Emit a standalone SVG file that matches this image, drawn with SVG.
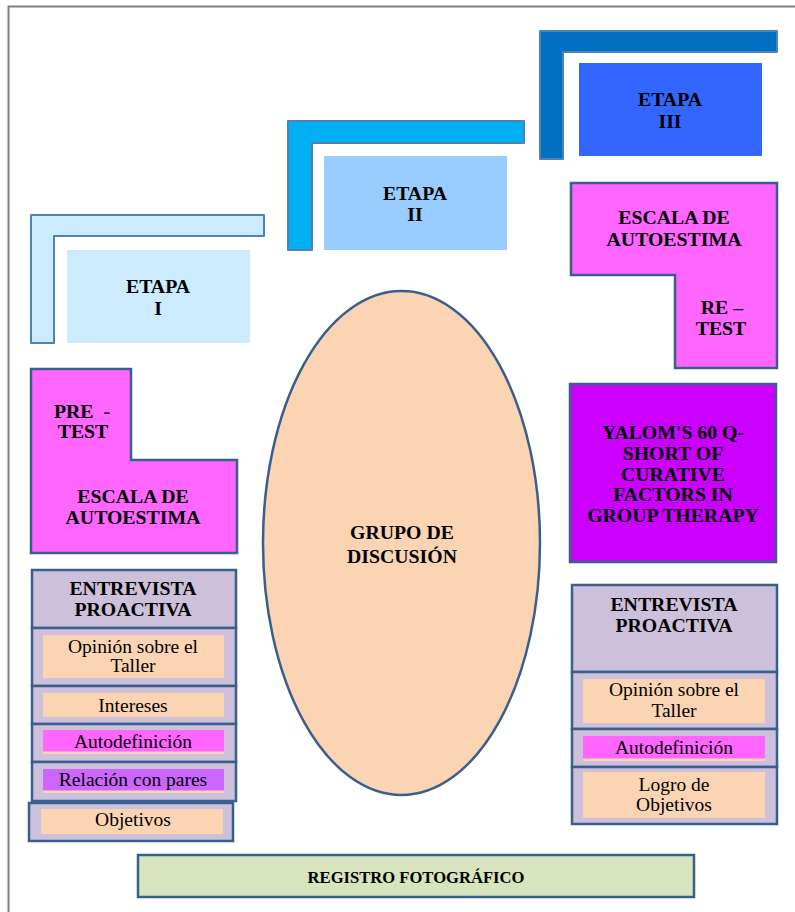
<svg xmlns="http://www.w3.org/2000/svg" width="795" height="912" viewBox="0 0 795 912">
<style>
.b{font-family:"Liberation Serif","Times New Roman",serif;font-weight:bold;font-size:19.8px;text-anchor:middle;fill:#000}
.r{font-family:"Liberation Serif","Times New Roman",serif;font-size:19.5px;text-anchor:middle;fill:#000}
.bx{stroke:#3A5F8C;stroke-width:2.5}
.lsh{stroke:#4F81BD;stroke-width:2;stroke-linejoin:round}
.row{fill:#CCC0DA;stroke:#3A5F8C;stroke-width:2.5}
.peach{fill:#FBD4B4}
</style>
<rect width="795" height="912" fill="#fff"/>
<path d="M8.5 912 V6.5 H795" fill="none" stroke="#808080" stroke-width="2"/>

<g id="etapa1">
<path class="lsh" d="M31 215 H264 V236 H54 V343 H31 Z" fill="#CCEBFF"/>
<rect x="67" y="250" width="183" height="93" fill="#CCEBFF"/>
<text class="b" x="158" y="293">ETAPA</text>
<text class="b" x="158" y="315">I</text>
</g>

<g id="etapa2">
<path class="lsh" d="M288 121 H524 V143 H312 V250 H288 Z" fill="#00B0F0"/>
<rect x="324" y="156" width="183" height="94" fill="#99CCFF"/>
<text class="b" x="415" y="200">ETAPA</text>
<text class="b" x="415" y="221">II</text>
</g>

<g id="etapa3">
<path class="lsh" d="M540 31 H777 V52 H563 V159 H540 Z" fill="#0070C0"/>
<rect x="579" y="63" width="183" height="93" fill="#3366FF"/>
<text class="b" x="670" y="106">ETAPA</text>
<text class="b" x="670" y="128">III</text>
</g>

<g id="retest">
<path class="bx" d="M571 183 H777 V368 H675 V275 H571 Z" fill="#FF66FF"/>
<text class="b" x="674" y="224">ESCALA DE</text>
<text class="b" x="674" y="246">AUTOESTIMA</text>
<text class="b" x="722" y="314">RE –</text>
<text class="b" x="721" y="335">TEST</text>
</g>

<g id="pretest">
<path class="bx" d="M31 369 H131 V460 H237 V553 H31 Z" fill="#FF66FF"/>
<text class="b" x="82" y="418" xml:space="preserve">PRE  -</text>
<text class="b" x="83" y="438">TEST</text>
<text class="b" x="133" y="503">ESCALA DE</text>
<text class="b" x="133" y="524">AUTOESTIMA</text>
</g>

<g id="grupo">
<ellipse cx="401.5" cy="543" rx="138.5" ry="252" fill="#FBD4B4" stroke="#3A5F8C" stroke-width="2.5"/>
<text class="b" x="402" y="539">GRUPO DE</text>
<text class="b" x="402" y="563">DISCUSIÓN</text>
</g>

<g id="yalom">
<rect class="bx" x="570" y="384" width="206" height="178" fill="#CC00FF"/>
<text class="b" x="673" y="439">YALOM'S 60 Q-</text>
<text class="b" x="673" y="460">SHORT OF</text>
<text class="b" x="673" y="481">CURATIVE</text>
<text class="b" x="673" y="501">FACTORS IN</text>
<text class="b" x="673" y="522">GROUP THERAPY</text>
</g>

<g id="entrevista-izq">
<rect class="row" x="32" y="570" width="204" height="58"/>
<text class="b" x="133" y="595">ENTREVISTA</text>
<text class="b" x="133" y="616">PROACTIVA</text>
<rect class="row" x="32" y="628" width="204" height="58"/>
<rect class="peach" x="43" y="635" width="181" height="43"/>
<text class="r" x="133" y="653">Opinión sobre el</text>
<text class="r" x="133" y="672">Taller</text>
<rect class="row" x="32" y="686" width="204" height="38"/>
<rect class="peach" x="43" y="693" width="181" height="24"/>
<text class="r" x="133" y="712">Intereses</text>
<rect class="row" x="32" y="724" width="204" height="38"/>
<rect class="peach" x="43" y="730" width="181" height="24"/>
<rect x="43" y="730" width="181" height="21.5" fill="#FF66FF"/>
<text class="r" x="133" y="748">Autodefinición</text>
<rect class="row" x="32" y="762" width="204" height="39"/>
<rect class="peach" x="43" y="769" width="181" height="24"/>
<rect x="43" y="769" width="181" height="21.5" fill="#CC66FF"/>
<text class="r" x="133" y="786">Relación con pares</text>
<rect class="row" x="29" y="803" width="204" height="38"/>
<rect class="peach" x="41" y="809" width="182" height="25"/>
<text class="r" x="133" y="826">Objetivos</text>
</g>

<g id="entrevista-der">
<rect class="row" x="572" y="585" width="205" height="87"/>
<text class="b" x="674" y="611">ENTREVISTA</text>
<text class="b" x="674" y="632">PROACTIVA</text>
<rect class="row" x="572" y="672" width="205" height="57"/>
<rect class="peach" x="583" y="679" width="182" height="44"/>
<text class="r" x="674" y="696">Opinión sobre el</text>
<text class="r" x="674" y="717">Taller</text>
<rect class="row" x="572" y="729" width="205" height="38"/>
<rect class="peach" x="583" y="736" width="182" height="25"/>
<rect x="583" y="736" width="182" height="22.5" fill="#FF66FF"/>
<text class="r" x="674" y="754">Autodefinición</text>
<rect class="row" x="572" y="767" width="205" height="57"/>
<rect class="peach" x="583" y="772" width="182" height="46"/>
<text class="r" x="674" y="791">Logro de</text>
<text class="r" x="674" y="811">Objetivos</text>
</g>

<g id="registro">
<rect class="bx" x="138" y="855" width="556" height="42" fill="#D7E4BD"/>
<text class="b" x="416" y="883" style="font-size:16.6px">REGISTRO FOTOGRÁFICO</text>
</g>
</svg>
